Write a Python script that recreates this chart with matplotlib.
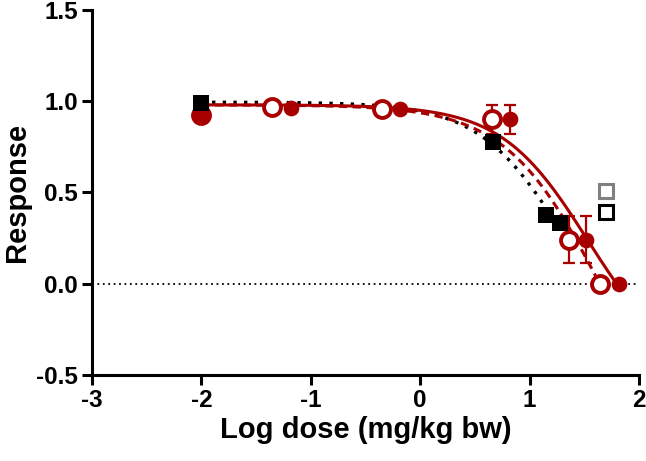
import numpy as np
import matplotlib
matplotlib.use("Agg")
import matplotlib.pyplot as plt

plt.rcParams['font.family'] = ['Liberation Sans', 'DejaVu Sans']
plt.rcParams['font.weight'] = 'bold'
plt.rcParams['axes.unicode_minus'] = False

RED = '#a80000'

# filled red circles (with SEM)
fill_x = [-2.0, -1.18, -0.18, 0.82, 1.52, 1.82]
fill_y = [0.925, 0.965, 0.955, 0.90, 0.242, 0.0]
fill_err = [0, 0, 0, 0.078, 0.128, 0]

# open red circles
open_x = [-2.0, -1.35, -0.35, 0.655, 1.356, 1.645]
open_y = [0.925, 0.97, 0.955, 0.90, 0.242, 0.0]
open_err = [0, 0, 0, 0.078, 0.128, 0]

# black filled squares
sq_x = [-2.0, 0.67, 1.152, 1.28]
sq_y = [0.99, 0.777, 0.375, 0.333]

# open squares (excluded points)
osq_x = [1.697, 1.697]
osq_y = [0.508, 0.393]
osq_col = ['#808080', 'black']

# fitted curves: (top, bottom, logEC50, hill, x-end)
fit_solid = (0.98, -0.5, 1.53, 1.1, 1.82)
fit_dashed = (0.98, -1.0, 1.65, 1.0, 1.645)
fit_dotted = (0.995, -0.5, 1.33, 1.1, 1.28)


def curve(p):
    top, bot, c, h, xe = p
    x = np.linspace(-2, xe, 200)
    return x, bot + (top - bot) / (1 + 10 ** (h * (x - c)))


def with_err(xs, ys, es):
    idx = [i for i, e in enumerate(es) if e > 0]
    return [xs[i] for i in idx], [ys[i] for i in idx], [es[i] for i in idx]


fig = plt.figure(figsize=(6.46, 4.61), dpi=100)
ax = fig.add_axes([0.1424, 0.1866, 0.8467, 0.7918])

ax.axhline(0, color='black', lw=1.3, ls=(0, (1, 2)), zorder=1)

x, y = curve(fit_dotted)
ax.plot(x, y, color='black', lw=2.4, ls=(0, (1, 2.2)), zorder=2)
x, y = curve(fit_dashed)
ax.plot(x, y, color=RED, lw=2.2, ls=(0, (2.7, 1.8)), zorder=2)
x, y = curve(fit_solid)
ax.plot(x, y, color=RED, lw=2.2, zorder=2)

for xs, ys, es in [(open_x, open_y, open_err), (fill_x, fill_y, fill_err)]:
    ex, ey, ee = with_err(xs, ys, es)
    ax.errorbar(ex, ey, yerr=ee, fmt='none', ecolor=RED, elinewidth=1.6,
                capsize=4.5, capthick=1.6, zorder=2.5)

ax.plot(open_x, open_y, 'o', ms=12.2, mfc='white', mec=RED, mew=2.8, zorder=3)
ax.plot(fill_x, fill_y, 'o', ms=11.3, mfc=RED, mec=RED, mew=0, zorder=4)
ax.plot(sq_x, sq_y, 's', ms=11, color='black', mew=0, zorder=5)
for xx, yy, cc in zip(osq_x, osq_y, osq_col):
    ax.plot(xx, yy, 's', ms=10, mfc='white', mec=cc, mew=2.2, zorder=5)

ax.set_xlim(-3, 2)
ax.set_ylim(-0.5, 1.5)
ax.set_xticks([-3, -2, -1, 0, 1, 2])
ax.set_yticks([-0.5, 0, 0.5, 1.0, 1.5])
ax.set_yticklabels(['%.1f' % v for v in [-0.5, 0, 0.5, 1.0, 1.5]])
for s in ['top', 'right']:
    ax.spines[s].set_visible(False)
for s in ['left', 'bottom']:
    ax.spines[s].set_linewidth(2.2)
    ax.spines[s].set_zorder(10)
ax.tick_params(width=2.2, length=7, labelsize=17.5, pad=3)
for lab in ax.get_xticklabels() + ax.get_yticklabels():
    lab.set_fontweight('bold')
ax.set_xlabel('Log dose (mg/kg bw)', fontsize=21, fontweight='bold', labelpad=3)
ax.set_ylabel('Response', fontsize=21, fontweight='bold', labelpad=4)
for art in ax.get_lines():
    art.set_clip_on(False)

fig.savefig('out.png', dpi=100)
